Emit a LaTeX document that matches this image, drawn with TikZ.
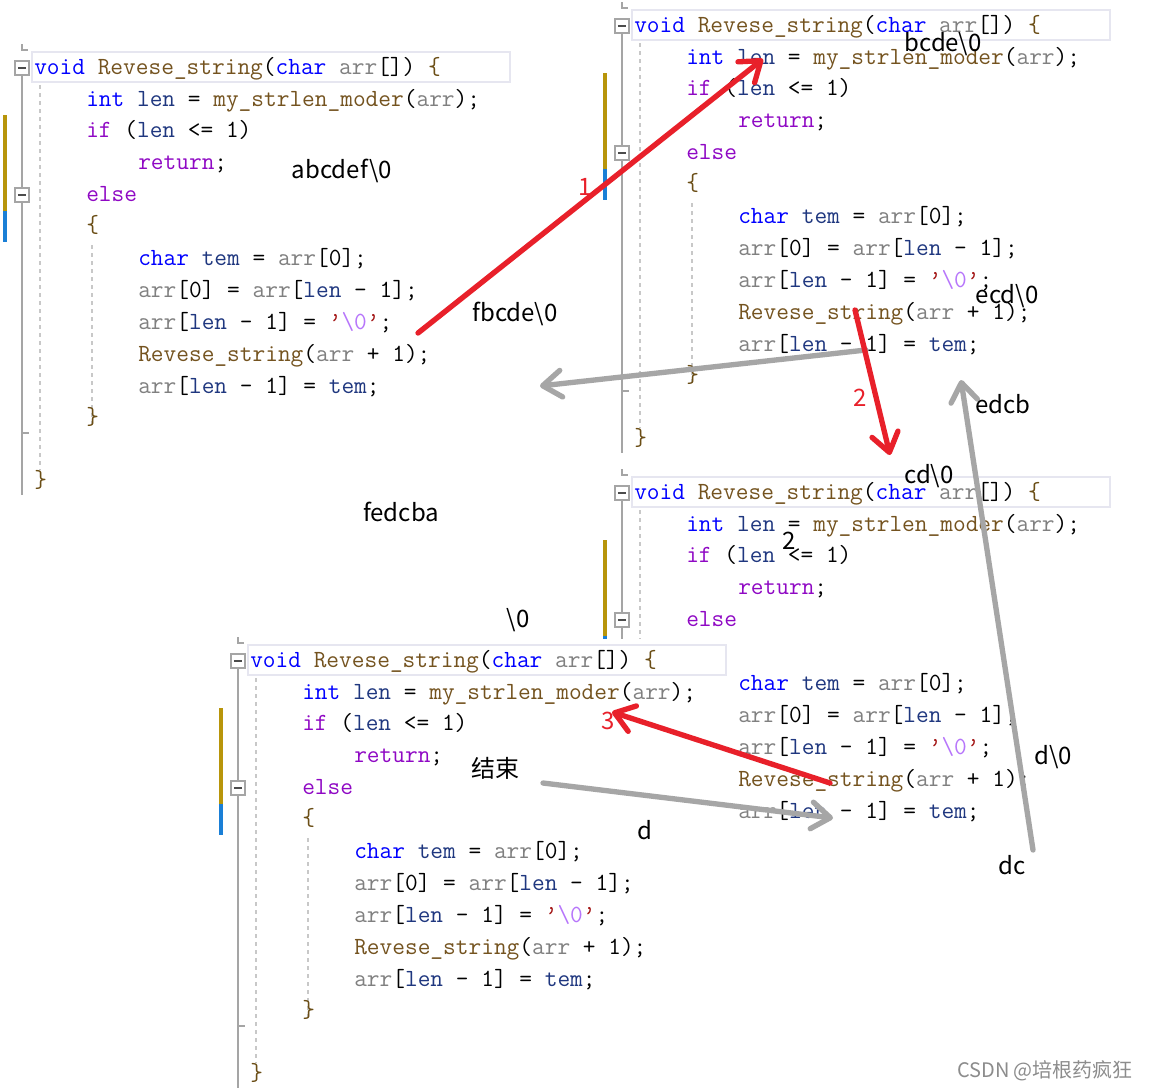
\documentclass[tikz,border=0pt]{standalone}
\usepackage{xcolor}
\usepackage{fontspec}
\usepackage{tikz}
\usetikzlibrary{arrows.meta}
\newfontfamily\notefont{Noto Sans CJK SC}

\definecolor{kwblue}{HTML}{0000FF}
\definecolor{fnbrown}{HTML}{74531F}
\definecolor{ctlpurple}{HTML}{8F08C4}
\definecolor{prmgray}{HTML}{808080}
\definecolor{varblue}{HTML}{1F377F}
\definecolor{strred}{HTML}{A31515}
\definecolor{esclilac}{HTML}{B776FB}
\definecolor{bracebrown}{HTML}{6B4E16}
\definecolor{bargold}{HTML}{B8950A}
\definecolor{barblue}{HTML}{1A7FD6}
\definecolor{foldgray}{HTML}{A5A5A5}
\definecolor{guidegray}{HTML}{C8C8C8}
\definecolor{hlgray}{HTML}{E6E6F0}
\definecolor{arrred}{HTML}{E8202A}
\definecolor{arrgray}{HTML}{A6A6A6}

% code tokens
\newcommand{\ckw}[1]{\textcolor{kwblue}{#1}}
\newcommand{\cfn}[1]{\textcolor{fnbrown}{#1}}
\newcommand{\cctl}[1]{\textcolor{ctlpurple}{#1}}
\newcommand{\cprm}[1]{\textcolor{prmgray}{#1}}
\newcommand{\cvar}[1]{\textcolor{varblue}{#1}}
\newcommand{\cstr}[1]{\textcolor{strred}{#1}}
\newcommand{\cesc}[1]{\textcolor{esclilac}{#1}}
\newcommand{\cbr}[1]{\textcolor{bracebrown}{#1}}

% one editor snippet: #1 name, (#2,#3) left/centre of the first line
\newcommand{\revblock}[3]{%
  \begin{scope}[shift={(#2,#3)}]
    % snippet background
    \fill[white] (-32,-22) rectangle (475,429);
    \draw[hlbox] (-2,-16) rectangle (476,14);
    % change bars
    \fill[bargold] (-31,47) rectangle (-27,143);
    \fill[barblue] (-31,143) rectangle (-27,174);
    % fold margin
    \draw[foldln] (-12,-24) -- (-12,-18) -- (-6,-18);
    \draw[foldln] (-12,7) -- (-12,120);
    \draw[foldln] (-12,134) -- (-12,427);
    \draw[foldln] (-12,365) -- (-5,365);
    \node[foldbox] (#1-f1) at (-12,0) {};
    \node[foldbox] (#1-f2) at (-12,127) {};
    \draw[guide] (6,17) -- (6,402);
    \draw[guide] (58,177) -- (58,357);
    % code
    \node[codeln] (#1-l1) at (0,6) {\ckw{void} \cfn{Revese\_string}(\ckw{char} \cprm{arr}[]) \cbr{\{}};
    \node[codeln] (#1-l2) at (52,38) {\ckw{int} \cvar{len} = \cfn{my\_strlen\_moder}(\cprm{arr});};
    \node[codeln] (#1-l3) at (52,69) {\cctl{if} (\cvar{len} <= 1)};
    \node[codeln] (#1-l4) at (104,101) {\cctl{return};};
    \node[codeln] (#1-l5) at (52,133) {\cctl{else}};
    \node[codeln] (#1-l6) at (52,164) {\cbr{\{}};
    \node[codeln] (#1-l7) at (104,197) {\ckw{char} \cvar{tem} = \cprm{arr}[0];};
    \node[codeln] (#1-l8) at (104,229) {\cprm{arr}[0] = \cprm{arr}[\cvar{len} - 1];};
    \node[codeln] (#1-l9) at (104,261) {\cprm{arr}[\cvar{len} - 1] = \cstr{’}\cesc{\textbackslash0}\cstr{’};};
    \node[codeln] (#1-l10) at (104,293) {\cfn{Revese\_string}(\cprm{arr} + 1);};
    \node[codeln] (#1-l11) at (104,325) {\cprm{arr}[\cvar{len} - 1] = \cvar{tem};};
    \node[codeln] (#1-l12) at (52,356) {\cbr{\}}};
    \node[codeln] (#1-l13) at (0,419) {\cbr{\}}};
  \end{scope}}

\begin{document}
\begin{tikzpicture}[x=0.75pt, y=-0.75pt,
  codeln/.style={anchor=base west, inner sep=0pt, font=\ttfamily\fontsize{18.5}{20}\selectfont},
  foldbox/.style={draw=foldgray, fill=white, line width=1.2pt, minimum size=10.5pt, inner sep=0pt,
    path picture={\draw[line width=1.4pt, black!70] ([xshift=2.2pt]path picture bounding box.west) -- ([xshift=-2.2pt]path picture bounding box.east);}},
  foldln/.style={draw=foldgray, line width=1.5pt},
  guide/.style={draw=guidegray, line width=1pt, dash pattern=on 3pt off 3pt},
  hlbox/.style={draw=hlgray, line width=2.2pt},
  note/.style={font=\notefont\fontsize{18}{20}\selectfont, inner sep=0pt},
  rednum/.style={note, text=arrred},
  redarr/.style={draw=arrred, line width=4pt, line cap=round, -{Straight Barb[length=14pt, width=20pt, round]}},
  grayarr/.style={redarr, draw=arrgray}]
    \useasboundingbox[fill=white] (0,0) rectangle (1151,1090);

    % Snippets
    \revblock{tl}{34}{68}
    \revblock{tr}{634}{26}
    \revblock{mr}{634}{493}
    \revblock{bl}{250}{661}

    % Arrow ends
    \coordinate (r1a) at (418,333);  \coordinate (r1b) at (763,59);
    \coordinate (r2a) at (855,310);  \coordinate (r2b) at (890,455);
    \coordinate (r3a) at (830,783);  \coordinate (r3b) at (612,712);
    \coordinate (g1a) at (866,350);  \coordinate (g1b) at (540,386);
    \coordinate (g2a) at (1033,850); \coordinate (g2b) at (961,380);
    \coordinate (g3a) at (543,783);  \coordinate (g3b) at (833,818);

    % Returns
    \draw[grayarr] (g1a) -- (g1b);
    \draw[grayarr] (g2a) -- (g2b);
    \draw[grayarr] (g3a) -- (g3b);

    % Calls
    \draw[redarr] (r1a) -- (r1b);
    \draw[redarr] (r2a) -- (r2b);
    \draw[redarr] (r3a) -- (r3b);

    % Step numbers
    \node[rednum] (n1) at (585,187) {1};
    \node[rednum] (n2) at (860,398) {2};
    \node[rednum] (n3) at (608,721) {3};

    % String states
    \node[note] (s1) at (342,171) {abcdef\textbackslash0};
    \node[note] (s2) at (515,314) {fbcde\textbackslash0};
    \node[note] (s3) at (943,44) {bcde\textbackslash0};
    \node[note] (s4) at (1007,296) {ecd\textbackslash0};
    \node[note] (s5) at (1003,404) {edcb};
    \node[note] (s6) at (929,476) {cd\textbackslash0};
    \node[note] (s7) at (789,541) {2};
    \node[note] (s8) at (401,512) {fedcba};
    \node[note] (s9) at (518,620) {\textbackslash0};
    \node[note] (s10) at (495,768) {结束};
    \node[note] (s11) at (645,830) {d};
    \node[note] (s12) at (1053,757) {d\textbackslash0};
    \node[note] (s13) at (1012,865) {dc};

    % Watermark
    \node[note, font=\notefont\fontsize{15}{17}\selectfont, text=black!45] (wm) at (1045,1071) {CSDN @培根药疯狂};
\end{tikzpicture}
\end{document}
